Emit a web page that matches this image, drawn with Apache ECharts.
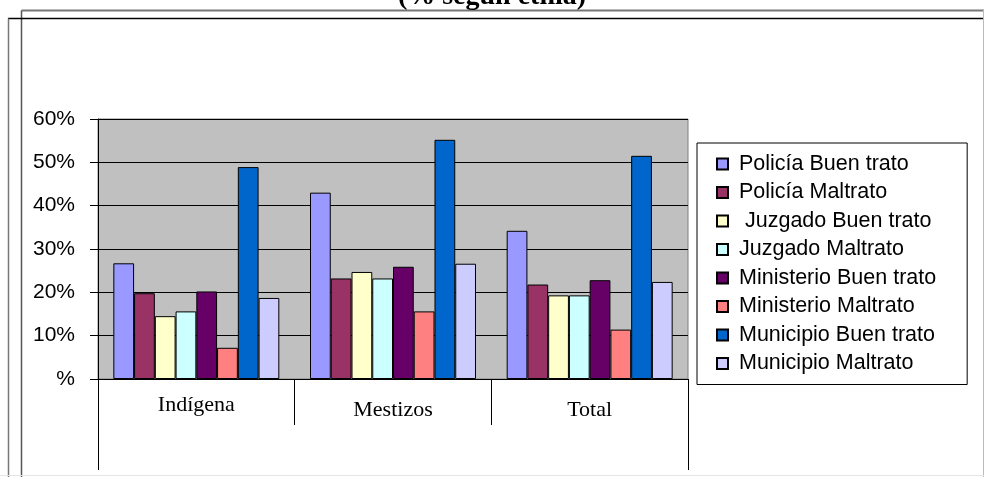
<!DOCTYPE html>
<html><head><meta charset="utf-8">
<script src="https://cdn.jsdelivr.net/npm/echarts@6/dist/echarts.min.js"></script>
<style>html,body{margin:0;padding:0;background:#fff}#c{width:984px;height:477px}</style>
</head><body><div id="c"></div>
<script>
var categories = ['Indígena', 'Mestizos', 'Total'];
var seriesNames = ['Policía Buen trato', 'Policía Maltrato', ' Juzgado Buen trato', 'Juzgado Maltrato',
  'Ministerio Buen trato', 'Ministerio Maltrato', 'Municipio Buen trato', 'Municipio Maltrato'];
var policiaBuen = [26.7, 43.0, 34.2];
var policiaMal = [19.8, 23.2, 21.8];
var juzgadoBuen = [14.5, 24.7, 19.3];
var juzgadoMal = [15.6, 23.2, 19.3];
var ministerioBuen = [20.2, 25.9, 22.8];
var ministerioMal = [7.2, 15.6, 11.4];
var municipioBuen = [48.9, 55.2, 51.5];
var municipioMal = [18.7, 26.6, 22.4];
var yTicks = ['%', '10%', '20%', '30%', '40%', '50%', '60%'];
var titleText = '(% según etnia)';

var values = [policiaBuen, policiaMal, juzgadoBuen, juzgadoMal, ministerioBuen, ministerioMal, municipioBuen, municipioMal];
var colors = ['#9999FF', '#993366', '#FFFFCC', '#CCFFFF', '#660066', '#FF8080', '#0066CC', '#CCCCFF'];

var G = {left: 98, top: 119, right: 296, bottom: 98};
var W = 984, H = 477;
var gx0 = G.left, gx1 = W - G.right, gy1 = H - G.bottom;

var chart = echarts.init(document.getElementById('c'), null, {renderer: 'canvas'});
var series = seriesNames.map(function (n, i) {
  return {
    name: n, type: 'bar', data: values[i], barGap: '0%', barCategoryGap: '15.6%',
    itemStyle: {color: colors[i], borderColor: '#000', borderWidth: 1},
    emphasis: {disabled: true}
  };
});
chart.setOption({
  animation: false,
  title: {
    text: titleText, left: 'center', top: -17, padding: 0,
    textStyle: {fontFamily: 'Liberation Serif', fontWeight: 'bold', fontSize: 28, color: '#000'}
  },
  grid: {
    left: G.left, top: G.top, right: G.right, bottom: G.bottom,
    show: true, backgroundColor: '#C0C0C0', borderColor: '#808080', borderWidth: 1
  },
  legend: {
    orient: 'vertical', left: 697, top: 143,
    backgroundColor: '#fff', borderColor: '#000', borderWidth: 1,
    padding: [10, 31, 10, 19], itemGap: 6.5, itemWidth: 11, itemHeight: 11,
    icon: 'rect',
    textStyle: {fontFamily: 'Liberation Sans', fontSize: 21.5, lineHeight: 20, color: '#000', padding: [0, 0, 0, 6]},
    data: seriesNames
  },
  xAxis: {
    type: 'category',
    data: categories.map(function (c, i) {
      return {value: c, textStyle: {lineHeight: i === 0 ? 12 : 22}};
    }),
    axisLine: {lineStyle: {color: '#000', width: 1}},
    axisTick: {show: true, length: 46, lineStyle: {color: '#000'}},
    axisLabel: {fontFamily: 'Liberation Serif', fontSize: 22, color: '#000', margin: 20}
  },
  yAxis: {
    type: 'value', min: 0, max: 60, interval: 10,
    axisLine: {show: true, lineStyle: {color: '#000'}},
    axisTick: {show: true, length: 8, lineStyle: {color: '#000'}},
    splitLine: {lineStyle: {color: '#000', width: 1}},
    axisLabel: {
      fontFamily: 'Liberation Sans', fontSize: 21, color: '#000', margin: 23,
      formatter: function (v) { return yTicks[Math.round(v / 10)]; }
    }
  },
  series: series,
  graphic: [
    {type: 'line', shape: {x1: 21.5, y1: 10.5, x2: 984, y2: 10.5}, style: {stroke: '#777', lineWidth: 2}, silent: true},
    {type: 'line', shape: {x1: 21.5, y1: 10.5, x2: 21.5, y2: 477}, style: {stroke: '#555', lineWidth: 1.5}, silent: true},
    {type: 'line', shape: {x1: 8, y1: 18.5, x2: 984, y2: 18.5}, style: {stroke: '#000', lineWidth: 1.5}, silent: true},
    {type: 'line', shape: {x1: 8.5, y1: 18.5, x2: 8.5, y2: 477}, style: {stroke: '#777', lineWidth: 1.5}, silent: true},
    {type: 'line', shape: {x1: 983.5, y1: 10, x2: 983.5, y2: 477}, style: {stroke: '#bbb', lineWidth: 1}, silent: true},
    {type: 'line', shape: {x1: 0, y1: 475.5, x2: 984, y2: 475.5}, style: {stroke: '#e6e6e6', lineWidth: 1}, silent: true},
    {type: 'line', shape: {x1: gx0 + 0.5, y1: gy1, x2: gx0 + 0.5, y2: 470}, style: {stroke: '#000', lineWidth: 1}, silent: true},
    {type: 'line', shape: {x1: gx1 + 0.5, y1: gy1, x2: gx1 + 0.5, y2: 470}, style: {stroke: '#000', lineWidth: 1}, silent: true}
  ]
});
</script>
</body></html>
